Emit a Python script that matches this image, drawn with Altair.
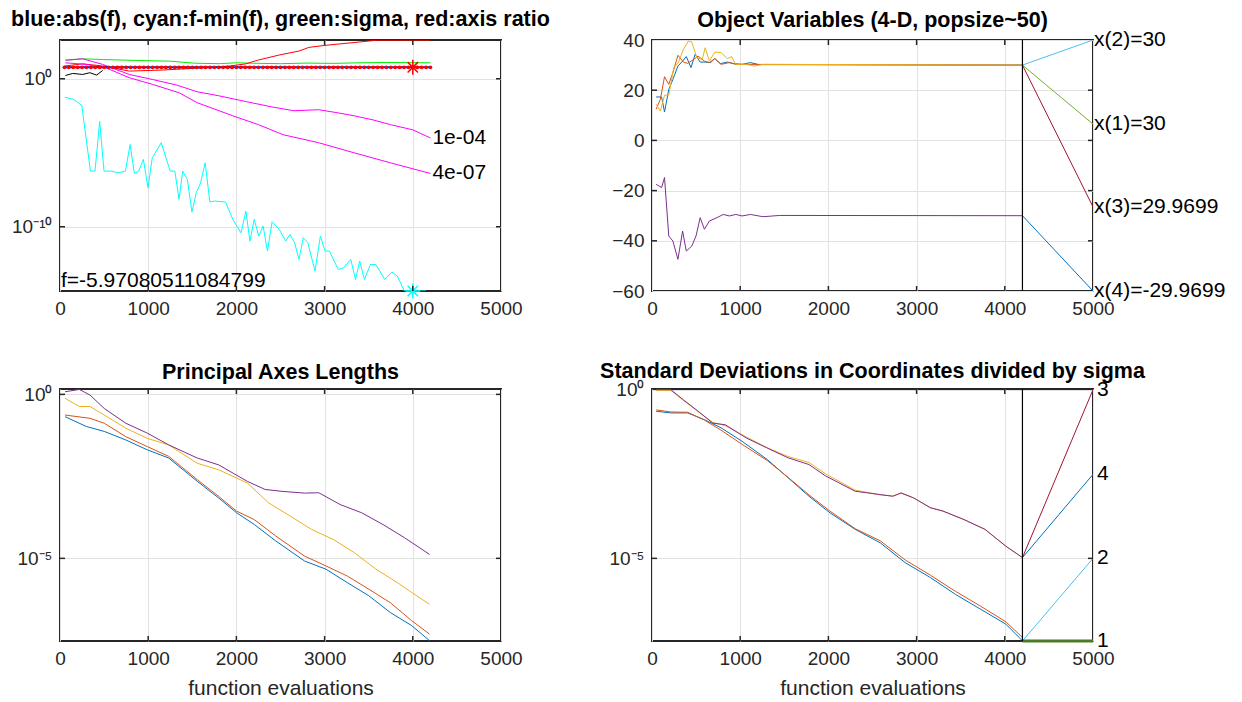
import altair as alt
import pandas as pd

FONT = "Liberation Sans"

# ---------------- panel 1: fitness, sigma, axis ratio (log10 values) ----------------
cyan_evals = [53, 154, 247, 345, 397, 450, 499, 580, 661, 742, 795, 843, 892, 945, 998, 1046, 1148, 1249,
              1302, 1350, 1391, 1444, 1496, 1545, 1594, 1646, 1699, 1756, 1877, 1959, 2052, 2108, 2153,
              2202, 2254, 2303, 2352, 2405, 2486, 2559, 2607, 2660, 2709, 2758, 2810, 2891, 2952, 3005,
              3054, 3155, 3216, 3297, 3350, 3398, 3451, 3520, 3581, 3682, 3763, 3824, 3905, 3986, 4088, 4150]
cyan_log = [-1.24, -1.40, -1.80, -6.24, -6.24, -2.88, -6.24, -6.24, -6.35, -6.24, -4.44, -6.40, -6.24,
            -5.45, -7.36, -5.34, -4.32, -6.24, -6.24, -8.15, -6.24, -6.80, -9.01, -7.70, -7.03, -5.68,
            -8.33, -8.26, -8.33, -9.50, -10.41, -8.94, -10.97, -9.50, -10.63, -9.95, -11.64, -9.66,
            -10.18, -10.97, -10.52, -11.08, -12.21, -10.74, -11.08, -12.99, -10.63, -11.64, -11.64,
            -12.88, -12.77, -12.21, -13.56, -12.32, -13.56, -12.55, -12.55, -13.56, -13.06, -13.33,
            -14.34, -14.34, -14.34, -14.34]

absf_evals = list(range(50, 4201, 50))
absf_value = 5.97080511084799

red_evals = [50, 257, 484, 786, 1163, 1616, 1918, 2100, 2239, 2481, 2708, 2822, 2994, 3334, 3600, 3900, 4200]
red_log = [0.86, 1.01, 0.86, 0.52, 0.59, 0.74, 0.86, 1.00, 1.25, 1.60, 1.87, 2.12, 2.25, 2.45, 2.61, 2.61, 2.61]

green_evals = [61, 257, 484, 862, 1239, 1540, 1805, 2000, 2182, 2500, 2800, 3100, 3400, 3700, 4200]
green_log = [1.24, 1.35, 1.30, 1.24, 1.19, 1.05, 1.02, 1.08, 1.05, 1.02, 1.06, 1.04, 1.08, 1.10, 1.08]

black_evals = [61, 144, 257, 338, 416, 484]
black_log = [0.22, 0.36, 0.29, 0.41, 0.25, 0.56]

mag1_evals = [61, 257, 484, 786, 1050, 1314, 1557, 1800, 2117, 2400, 2652, 2932, 3150, 3333, 3550, 3747, 4000, 4200]
mag1_log = [1.26, 1.35, 0.97, 0.29, -0.05, -0.41, -0.88, -1.15, -1.55, -1.90, -2.16, -2.09, -2.30, -2.50,
            -2.78, -3.10, -3.45, -4.00]
mag2_evals = [61, 295, 521, 786, 1050, 1352, 1557, 1959, 2250, 2530, 2932, 3333, 3747, 4200]
mag2_log = [1.08, 0.97, 0.74, 0.07, -0.38, -0.95, -1.62, -2.50, -3.10, -3.78, -4.32, -5.00, -5.68, -6.40]

p1_texts = ["1e-04", "4e-07"]
p1_text_log = [-4.0, -6.4]
f_text = "f=-5.97080511084799"

# ---------------- panel 2: object variables ----------------
x1_evals = [47, 109, 142, 190, 237, 294, 347, 389, 442, 489, 546, 603, 665, 712, 774, 855, 926, 1021, 1116, 1211, 4200]
x1_vals = [17.3, 17.3, 11.3, 20.3, 24.3, 29.6, 31.6, 33.4, 29.0, 34.3, 31.2, 31.2, 31.0, 32.6, 30.6, 31.2,
           30.6, 30.3, 31.0, 30.2, 30.0]
x2_evals = [47, 95, 142, 190, 237, 294, 356, 404, 475, 522, 594, 651, 712, 783, 878, 950, 4200]
x2_vals = [12.4, 16.4, 25.4, 22.3, 27.0, 33.9, 31.2, 30.7, 32.3, 33.6, 31.6, 31.0, 32.6, 30.3, 31.0, 30.3, 30.0]
x3_evals = [47, 95, 142, 190, 247, 299, 356, 413, 451, 508, 570, 603, 651, 712, 783, 855, 902, 950, 1068,
            1163, 1258, 4200]
x3_vals = [14.4, 11.7, 18.0, 18.0, 29.0, 31.0, 36.3, 39.6, 39.2, 33.0, 32.3, 36.9, 31.6, 35.2, 35.0, 32.6,
           33.4, 30.3, 30.3, 29.6, 30.3, 30.0]
x4_evals = [47, 109, 142, 190, 237, 294, 347, 389, 451, 499, 546, 594, 651, 736, 807, 878, 950, 1021, 1116,
            1258, 1448, 4200]
x4_vals = [-17.5, -18.8, -14.8, -38.1, -40.1, -47.4, -36.1, -44.1, -42.1, -38.1, -30.8, -35.4, -32.1, -30.8,
           -29.5, -30.1, -29.5, -30.1, -29.5, -30.4, -29.9, -30.0]
p2_labels = ["x(2)=30", "x(1)=30", "x(3)=29.9699", "x(4)=-29.9699"]
p2_label_start = [30, 30, 30, -30]
p2_label_end = [40, 6.5, -26.5, -60]
p2_label_colors = ["#4DBEEE", "#77AC30", "#A2142F", "#0072BD"]
last_eval = 4200

# ---------------- panel 3: principal axes lengths (log10) ----------------
pa_purple_e = [57, 219, 340, 502, 746, 989, 1232, 1556, 1799, 2123, 2326, 2528, 2772, 2934, 3177, 3420, 3663, 3906, 4190]
pa_purple_l = [0.08, 0.15, -0.02, -0.43, -0.88, -1.18, -1.54, -1.94, -2.15, -2.65, -2.90, -2.96, -3.01, -3.00,
               -3.36, -3.61, -3.97, -4.37, -4.88]
pa_yellow_e = [57, 219, 340, 502, 746, 989, 1232, 1556, 1799, 2123, 2366, 2610, 2853, 3096, 3339, 3582, 3825, 3987, 4190]
pa_yellow_l = [-0.12, -0.37, -0.37, -0.63, -1.03, -1.34, -1.54, -2.10, -2.30, -2.70, -3.31, -3.71, -4.12,
               -4.42, -4.83, -5.33, -5.74, -6.04, -6.40]
pa_orange_e = [57, 340, 502, 746, 989, 1232, 1556, 1799, 2002, 2204, 2447, 2772, 3015, 3258, 3501, 3744, 3987, 4190]
pa_orange_l = [-0.63, -0.73, -0.88, -1.29, -1.59, -1.89, -2.60, -3.11, -3.56, -3.82, -4.32, -4.93, -5.23,
               -5.54, -5.94, -6.35, -6.90, -7.31]
pa_blue_e = [57, 300, 502, 746, 989, 1232, 1556, 1799, 2002, 2204, 2447, 2772, 3015, 3258, 3501, 3744, 3987, 4190]
pa_blue_l = [-0.68, -0.98, -1.13, -1.39, -1.69, -1.94, -2.65, -3.16, -3.61, -3.97, -4.47, -5.08, -5.33,
             -5.74, -6.14, -6.65, -7.05, -7.51]

# ---------------- panel 4: std devs / sigma (log10) ----------------
sd_purple_e = [47, 214, 356, 499, 688, 831, 1068, 1306, 1543, 1780, 1970, 2303, 2588, 2730, 2825, 2967, 3157,
               3300, 3537, 3775, 4012, 4202]
sd_purple_l = [0.0, 0.0, -0.30, -0.59, -0.99, -1.04, -1.43, -1.73, -2.02, -2.22, -2.56, -3.01, -3.11, -3.16,
               -3.06, -3.21, -3.50, -3.60, -3.85, -4.14, -4.64, -4.98]
sd_yellow_e = [47, 214, 356, 499, 688, 831, 1068, 1306, 1543, 1780, 1970, 2303, 2588, 2730, 2825, 2967, 3157,
               3300, 3537, 3775, 4012, 4202]
sd_yellow_l = [-0.02, -0.02, -0.32, -0.60, -0.97, -1.07, -1.40, -1.72, -1.98, -2.16, -2.50, -2.98, -3.12,
               -3.15, -3.07, -3.21, -3.50, -3.60, -3.85, -4.14, -4.64, -4.98]
sd_blue_e = [47, 214, 404, 594, 783, 1021, 1306, 1543, 1780, 2018, 2303, 2588, 2872, 3157, 3442, 3727, 4012, 4202]
sd_blue_l = [-0.64, -0.69, -0.69, -0.89, -1.13, -1.53, -2.07, -2.61, -3.16, -3.65, -4.14, -4.54, -5.13,
             -5.57, -6.07, -6.51, -6.95, -7.45]
sd_orange_e = [47, 214, 404, 594, 783, 1021, 1306, 1543, 1780, 2018, 2303, 2588, 2872, 3157, 3442, 3727, 4012, 4202]
sd_orange_l = [-0.60, -0.66, -0.67, -0.90, -1.20, -1.62, -2.10, -2.60, -3.12, -3.60, -4.12, -4.48, -5.05,
               -5.50, -5.98, -6.42, -6.88, -7.35]
p4_labels = ["3", "4", "2", "1"]
p4_label_start = [-4.98, -4.98, -7.45, -7.45]
p4_label_end = [0.0, -2.51, -5.0, -7.45]
p4_label_colors = ["#A2142F", "#0072BD", "#4DBEEE", "#4E7A28"]

BLUE, ORANGE, YELLOW, PURPLE = "#0072BD", "#D95319", "#EDB120", "#7E2F8E"
W, H = 441, 251
X_TICKS = [0, 1000, 2000, 3000, 4000, 5000]
X_INNER = [1000, 2000, 3000, 4000]
TICK_LEN = 5
FRAME = "#262626"


def logdf(ev, lg):
    return pd.DataFrame({"x": ev, "y": [10 ** v for v in lg]})


def lindf(ev, vals):
    return pd.DataFrame({"x": ev, "y": vals})


def xenc(title=None):
    ax = alt.Axis(values=X_TICKS, labelFlush=False, labelOverlap=False, format="d", title=title)
    return alt.X("x:Q", scale=alt.Scale(domain=[0, 5000], nice=False, zero=False), axis=ax)


def ylog(lo, hi, ticks, expr):
    return alt.Y("y:Q", scale=alt.Scale(type="log", domain=[10 ** lo, 10 ** hi], nice=False),
                 axis=alt.Axis(values=ticks, labelExpr=expr, labelFlush=False, title=None))


def line(df, color, x, y, width=1.0, clip=True):
    return alt.Chart(df).mark_line(color=color, strokeWidth=width, clip=clip).encode(x=x, y=y)


def inner_ticks(x, y, yticks, h):
    dx = pd.DataFrame({"x": X_INNER})
    dy = pd.DataFrame({"y": yticks})
    rule = dict(color=FRAME, strokeWidth=1.5)
    return [
        alt.Chart(dx).mark_rule(**rule).encode(x=x, y=alt.value(0), y2=alt.value(TICK_LEN)),
        alt.Chart(dx).mark_rule(**rule).encode(x=x, y=alt.value(h), y2=alt.value(h - TICK_LEN)),
        alt.Chart(dy).mark_rule(**rule).encode(y=y, x=alt.value(0), x2=alt.value(TICK_LEN)),
        alt.Chart(dy).mark_rule(**rule).encode(y=y, x=alt.value(W), x2=alt.value(W - TICK_LEN)),
    ]


STAR = "M -1 0 L 1 0 M 0 -1 L 0 1 M -0.7 -0.7 L 0.7 0.7 M -0.7 0.7 L 0.7 -0.7"

# ---------- panel 1 ----------
x1 = xenc()
y1 = ylog(-14.34, 2.62, [1e-10, 1], "datum.value == 1 ? '10⁰' : '10⁻¹⁰'")
absf_df = pd.DataFrame({"x": absf_evals, "y": [absf_value] * len(absf_evals)})
p1_layers = [
    line(logdf(cyan_evals, cyan_log), "#00FFFF", x1, y1),
    line(logdf(green_evals, green_log), "#00EE00", x1, y1),
    line(logdf(red_evals, red_log), "#FF0000", x1, y1),
    line(logdf(black_evals, black_log), "#000000", x1, y1),
    line(logdf(mag1_evals, mag1_log), "#FF00FF", x1, y1),
    line(logdf(mag2_evals, mag2_log), "#FF00FF", x1, y1),
    line(absf_df, "#1010C0", x1, y1, 2),
    alt.Chart(absf_df).mark_circle(color="#FF0000", size=14, opacity=1).encode(x=x1, y=y1),
    alt.Chart(pd.DataFrame({"x": [4000], "y": [absf_value]}))
    .mark_point(shape=STAR, filled=False, size=220, strokeWidth=1.5, color="#FF0000", opacity=1).encode(x=x1, y=y1),
    alt.Chart(pd.DataFrame({"x": [4000], "y": [10 ** -14.34]}))
    .mark_point(shape=STAR, filled=False, size=220, strokeWidth=1.5, color="#00FFFF", opacity=1).encode(x=x1, y=y1),
    alt.Chart(pd.DataFrame({"x": [4200, 4200], "y": [10 ** v for v in p1_text_log], "t": p1_texts}))
    .mark_text(align="left", baseline="middle", dx=2, font=FONT, fontSize=21, color="#000000")
    .encode(x=x1, y=y1, text="t:N"),
    alt.Chart(pd.DataFrame({"x": [0], "t": [f_text]}))
    .mark_text(align="left", baseline="middle", dx=1, font=FONT, fontSize=21, color="#000000")
    .encode(x=x1, y=alt.value(H - 10), text="t:N"),
] + inner_ticks(x1, y1, [1e-10, 1], H)
p1 = alt.layer(*p1_layers).properties(
    width=W, height=H,
    title=alt.TitleParams("blue:abs(f), cyan:f-min(f), green:sigma, red:axis ratio", dy=0))

# ---------- panel 2 ----------
x2 = xenc()
y2 = alt.Y("y:Q", scale=alt.Scale(domain=[-60, 40], nice=False, zero=False),
           axis=alt.Axis(values=[-60, -40, -20, 0, 20, 40], labelFlush=False, title=None))
p2_layers = [
    line(lindf(x1_evals, x1_vals), BLUE, x2, y2),
    line(lindf(x2_evals, x2_vals), ORANGE, x2, y2),
    line(lindf(x3_evals, x3_vals), YELLOW, x2, y2),
    line(lindf(x4_evals, x4_vals), PURPLE, x2, y2),
]
for s, e, c in zip(p2_label_start, p2_label_end, p2_label_colors):
    p2_layers.append(line(lindf([last_eval, 5000], [s, e]), c, x2, y2))
p2_layers.append(alt.Chart(pd.DataFrame({"x": [last_eval]})).mark_rule(color="#000000", strokeWidth=1.2)
                 .encode(x=x2))
p2_layers.append(alt.Chart(pd.DataFrame({"x": [5000] * 4, "y": p2_label_end, "t": p2_labels}))
                 .mark_text(align="left", baseline="middle", dx=1, font=FONT, fontSize=21, color="#000000")
                 .encode(x=x2, y=y2, text="t:N"))
p2_layers += inner_ticks(x2, y2, [-40, -20, 0, 20], H)
p2 = alt.layer(*p2_layers).properties(
    width=W, height=H, title=alt.TitleParams("Object Variables (4-D, popsize~50)", dy=11))

# ---------- panel 3 ----------
x3 = xenc("function evaluations")
y3 = ylog(-7.52, 0.164, [1e-5, 1], "datum.value == 1 ? '10⁰' : '10⁻⁵'")
p3_layers = [
    line(logdf(pa_blue_e, pa_blue_l), BLUE, x3, y3),
    line(logdf(pa_orange_e, pa_orange_l), ORANGE, x3, y3),
    line(logdf(pa_yellow_e, pa_yellow_l), YELLOW, x3, y3),
    line(logdf(pa_purple_e, pa_purple_l), PURPLE, x3, y3),
] + inner_ticks(x3, y3, [1e-5, 1], H + 1)
p3 = alt.layer(*p3_layers).properties(
    width=W, height=H + 1, title=alt.TitleParams("Principal Axes Lengths", dy=7))

# ---------- panel 4 ----------
x4 = xenc("function evaluations")
y4 = ylog(-7.45, 0.02, [1e-5, 1], "datum.value == 1 ? '10⁰' : '10⁻⁵'")
p4_layers = [
    line(logdf(sd_blue_e, sd_blue_l), BLUE, x4, y4),
    line(logdf(sd_orange_e, sd_orange_l), ORANGE, x4, y4),
    line(logdf(sd_yellow_e, sd_yellow_l), YELLOW, x4, y4),
    line(logdf(sd_purple_e, sd_purple_l), PURPLE, x4, y4),
]
for s, e, c in zip(p4_label_start, p4_label_end, p4_label_colors):
    if c == "#4E7A28":
        p4_layers.append(line(logdf([last_eval, 5000], [s, e]), c, x4, y4, 3, clip=False))
    else:
        p4_layers.append(line(logdf([last_eval, 5000], [s, e]), c, x4, y4))
p4_layers.append(alt.Chart(pd.DataFrame({"x": [last_eval]})).mark_rule(color="#000000", strokeWidth=1.2)
                 .encode(x=x4))
p4_layers.append(alt.Chart(pd.DataFrame({"x": [5000] * 4, "y": [10 ** v for v in p4_label_end], "t": p4_labels}))
                 .mark_text(align="left", baseline="middle", dx=4, font=FONT, fontSize=21, color="#000000")
                 .encode(x=x4, y=y4, text="t:N"))
p4_layers += inner_ticks(x4, y4, [1e-5], H + 1)
p4 = alt.layer(*p4_layers).properties(
    width=W, height=H + 1,
    title=alt.TitleParams("Standard Deviations in Coordinates divided by sigma", dy=13))

chart = alt.concat(p1, p2, p3, p4, columns=2, spacing={"row": 98, "column": 151}, bounds="flush").properties(
    padding={"left": 10, "top": 7, "right": 5, "bottom": 5},
    background="#FFFFFF",
).configure_view(
    stroke=FRAME, strokeWidth=2
).configure_axis(
    labelFont=FONT, labelFontSize=19, labelColor="#262626", labelPadding=8,
    titleFont=FONT, titleFontSize=21, titleFontWeight="normal", titleColor="#262626", titlePadding=9,
    grid=True, gridColor="#E2E2E2", gridWidth=1, domain=False, ticks=False,
).configure_title(
    font=FONT, fontSize=21.5, fontWeight="bold", color="#000000", offset=9, anchor="middle"
)

chart.save("out.html", embed_options={"renderer": "svg", "actions": False})
